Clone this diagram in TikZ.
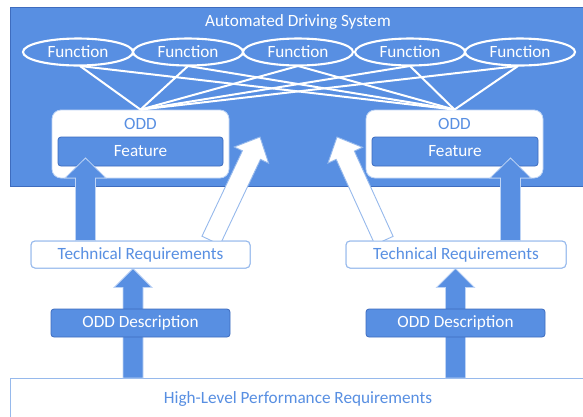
\documentclass[tikz,border=0pt]{standalone}
\usepackage{fontspec}
\setmainfont{Carlito}
\usetikzlibrary{calc,shapes.geometric}
\definecolor{mainblue}{RGB}{88,143,226}
\definecolor{darkblue}{RGB}{62,108,190}
\definecolor{lightblue}{RGB}{150,185,236}
\definecolor{paleblue}{RGB}{190,212,245}
\newcommand\blockarrow[7]{%
  \coordinate (#4-h) at ($(#3)!#7!(#2)$);
  \draw[#1] ($(#2)!#5!90:(#3)$) -- ($(#4-h)!#5!90:(#3)$) -- ($(#4-h)!#6!90:(#3)$) -- (#3)
    -- ($(#4-h)!#6!-90:(#3)$) -- ($(#4-h)!#5!-90:(#3)$) -- ($(#2)!#5!-90:(#3)$) -- cycle;
}
\tikzset{
  txt/.style={font=\fontsize{17.2}{20}\selectfont},
  sysbox/.style={draw=darkblue, line width=0.8pt, fill=mainblue, inner sep=0},
  func/.style={ellipse, draw=white, line width=2.1pt, fill=mainblue, minimum width=110pt, minimum height=27pt, inner sep=0, txt, text=white},
  oddbox/.style={draw=paleblue, line width=0.8pt, fill=white, rounded corners=9pt, minimum width=177pt, minimum height=68pt, inner sep=0},
  featbox/.style={draw=darkblue, line width=0.8pt, fill=mainblue, rounded corners=3pt, minimum height=29pt, inner sep=0, txt, text=white},
  reqbox/.style={draw=lightblue, line width=1pt, fill=white, rounded corners=4pt, minimum height=27pt, inner sep=0, txt, text=mainblue},
  descbox/.style={draw=darkblue, line width=0.8pt, fill=mainblue, rounded corners=3pt, minimum height=28pt, inner sep=0, txt, text=white},
  hlbox/.style={draw=lightblue, line width=1.2pt, fill=white, inner sep=0},
  link/.style={draw=white, line width=2pt},
  bluearrow/.style={fill=mainblue, draw=paleblue, line width=0.8pt, line join=miter},
  whitearrow/.style={fill=white, draw=lightblue, line width=0.9pt, line join=miter},
}
\begin{document}
\begin{tikzpicture}[x=1pt,y=-1pt]
\useasboundingbox (0,0) rectangle (583,416);
% system
\node[sysbox, minimum width=580pt, minimum height=179pt] (sys) at (300,96.5) {};
\node[txt, text=white] (title) at (298,22) {Automated Driving System};
% ODD boxes (below links)
\node[oddbox] (oddL) at (140.5,144) {};
\node[oddbox] (oddR) at (454.5,144) {};
% links
\coordinate (f1s) at (80,66);
\coordinate (f2s) at (188,66);
\coordinate (f3s) at (298,66);
\coordinate (f4s) at (410,66);
\coordinate (f5s) at (518,66);
\foreach \f in {f1s,f2s,f3s,f4s,f5s}{
  \draw[link] (oddL.north) -- (\f);
  \draw[link] (oddR.north) -- (\f);
}
% functions
\node[func] (f1) at (78,52) {Function};
\node[func] (f2) at (188,52) {Function};
\node[func] (f3) at (298,52) {Function};
\node[func] (f4) at (410,52) {Function};
\node[func] (f5) at (520,52) {Function};
% ODD contents
\node[txt, text=mainblue] (oddLt) at (140.5,124) {ODD};
\node[txt, text=mainblue] (oddRt) at (454.5,124) {ODD};
\node[featbox, minimum width=165pt] (featL) at (140.5,151.5) {Feature};
\node[featbox, minimum width=166pt] (featR) at (455,151.5) {Feature};
% requirement boxes (positions)
\node[reqbox, minimum width=219pt] (techL) at (140.5,254.5) {Technical Requirements};
\node[reqbox, minimum width=220pt] (techR) at (456,254.5) {Technical Requirements};
\node[hlbox, minimum width=600pt, minimum height=60pt, anchor=north west] (hl) at (10,378) {};
\node[txt, text=mainblue] (hlt) at (298,399) {High-Level Performance Requirements};
% arrows
\coordinate (wLs) at (211,0 |- techL.north);
\coordinate (wLt) at (260,137);
\coordinate (wRs) at (384,0 |- techR.north);
\coordinate (wRt) at (337,137);
\blockarrow{whitearrow}{wLs}{wLt}{wL}{10pt}{19pt}{20pt}
\blockarrow{whitearrow}{wRs}{wRt}{wR}{10pt}{19pt}{20pt}
\coordinate (bLs) at (85.5,0 |- techL.north);
\coordinate (bLt) at (85.5,158);
\coordinate (bRs) at (510.5,0 |- techR.north);
\coordinate (bRt) at (510.5,158);
\blockarrow{bluearrow}{bLs}{bLt}{bL}{10pt}{20.5pt}{20pt}
\blockarrow{bluearrow}{bRs}{bRt}{bR}{10pt}{20.5pt}{20pt}
\coordinate (cLs) at (133,0 |- hl.north);
\coordinate (cLt) at (133,0 |- techL.south);
\coordinate (cRs) at (455.5,0 |- hl.north);
\coordinate (cRt) at (455.5,0 |- techR.south);
\blockarrow{bluearrow}{cLs}{cLt}{cL}{10pt}{19pt}{19pt}
\blockarrow{bluearrow}{cRs}{cRt}{cR}{10pt}{19pt}{19pt}
% redraw tech boxes on top of white arrow bases
\node[reqbox, minimum width=219pt] at (techL) {Technical Requirements};
\node[reqbox, minimum width=220pt] at (techR) {Technical Requirements};
% ODD descriptions
\node[descbox, minimum width=179pt] (descL) at (140.5,323) {ODD Description};
\node[descbox, minimum width=179pt] (descR) at (455.5,323) {ODD Description};
\end{tikzpicture}
\end{document}
